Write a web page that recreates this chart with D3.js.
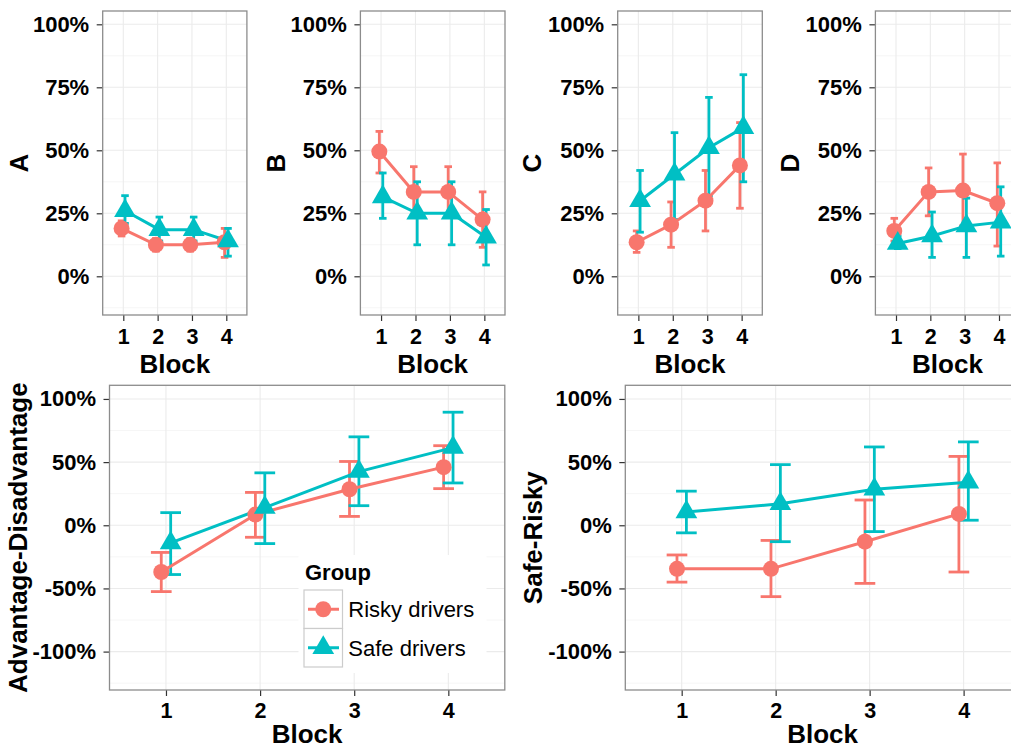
<!DOCTYPE html>
<html><head><meta charset="utf-8">
<script src="https://cdn.jsdelivr.net/npm/d3@7"></script>
<style>
body{margin:0;background:#fff}
svg{display:block}
text{font-family:"Liberation Sans",Arial,Helvetica,sans-serif}
</style>
</head><body>
<svg id="chart" width="1011" height="749"></svg>
<script>
// ---------------- data ----------------
const blocks = [1, 2, 3, 4];
const groupNames = ["Risky drivers", "Safe drivers"];
const groupColors = ["#F8766D", "#00BFC4"];
const topTicks = [0, 0.25, 0.5, 0.75, 1];
const bottomTicks = [-1, -0.5, 0, 0.5, 1];
const panelTitles = ["A", "B", "C", "D"];

// Panel A
const A_risky_mean = [0.19, 0.125, 0.125, 0.135];
const A_risky_low  = [0.16, 0.10, 0.10, 0.075];
const A_risky_high = [0.22, 0.15, 0.15, 0.19];
const A_safe_mean  = [0.26, 0.185, 0.185, 0.14];
const A_safe_low   = [0.21, 0.14, 0.14, 0.08];
const A_safe_high  = [0.32, 0.235, 0.235, 0.19];
// Panel B
const B_risky_mean = [0.495, 0.335, 0.335, 0.225];
const B_risky_low  = [0.41, 0.24, 0.24, 0.115];
const B_risky_high = [0.575, 0.435, 0.435, 0.335];
const B_safe_mean  = [0.315, 0.25, 0.25, 0.155];
const B_safe_low   = [0.23, 0.125, 0.125, 0.045];
const B_safe_high  = [0.41, 0.375, 0.375, 0.265];
// Panel C
const C_risky_mean = [0.135, 0.205, 0.30, 0.44];
const C_risky_low  = [0.095, 0.115, 0.18, 0.27];
const C_risky_high = [0.18, 0.295, 0.42, 0.61];
const C_safe_mean  = [0.30, 0.405, 0.51, 0.59];
const C_safe_low   = [0.175, 0.225, 0.32, 0.375];
const C_safe_high  = [0.42, 0.57, 0.71, 0.80];
// Panel D
const D_risky_mean = [0.18, 0.335, 0.34, 0.29];
const D_risky_low  = [0.14, 0.24, 0.20, 0.12];
const D_risky_high = [0.23, 0.43, 0.485, 0.45];
const D_safe_mean  = [0.13, 0.16, 0.20, 0.215];
const D_safe_low   = [0.11, 0.075, 0.075, 0.08];
const D_safe_high  = [0.16, 0.255, 0.31, 0.355];
// Advantage-Disadvantage
const AD_risky_mean = [-0.37, 0.085, 0.285, 0.46];
const AD_risky_low  = [-0.525, -0.095, 0.07, 0.29];
const AD_risky_high = [-0.215, 0.26, 0.505, 0.63];
const AD_safe_mean  = [-0.14, 0.14, 0.425, 0.615];
const AD_safe_low   = [-0.39, -0.145, 0.155, 0.335];
const AD_safe_high  = [0.10, 0.415, 0.70, 0.895];
// Safe-Risky
const SR_risky_mean = [-0.345, -0.345, -0.13, 0.09];
const SR_risky_low  = [-0.45, -0.565, -0.46, -0.37];
const SR_risky_high = [-0.235, -0.12, 0.20, 0.545];
const SR_safe_mean  = [0.105, 0.17, 0.285, 0.34];
const SR_safe_low   = [-0.06, -0.13, -0.05, 0.04];
const SR_safe_high  = [0.27, 0.48, 0.62, 0.66];

// ---------------- helpers ----------------
function series(mean, low, high) {
  return blocks.map((b, i) => ({block: b, mean: mean[i], low: low[i], high: high[i]}));
}
const pct = d => Math.round(d * 100) + "%";
const svg = d3.select("#chart");

function drawPanel(cfg) {
  const g = svg.append("g");
  const x = d3.scaleLinear().domain([0.4, 4.6]).range([cfg.x0, cfg.x1]);
  const y = d3.scaleLinear().domain(cfg.ydom).range([cfg.y1, cfg.y0]);
  const band = x(2) - x(1);

  g.append("rect").attr("x", cfg.x0).attr("y", cfg.y0)
    .attr("width", cfg.x1 - cfg.x0).attr("height", cfg.y1 - cfg.y0).attr("fill", "#fff");

  // minor grid
  const minor = [];
  for (let i = 0; i < cfg.ticks.length - 1; i++) minor.push((cfg.ticks[i] + cfg.ticks[i + 1]) / 2);
  minor.push(cfg.ticks[0] - (cfg.ticks[1] - cfg.ticks[0]) / 2);
  minor.push(cfg.ticks[cfg.ticks.length - 1] + (cfg.ticks[1] - cfg.ticks[0]) / 2);
  g.selectAll(".mg").data(minor.filter(v => v > cfg.ydom[0] && v < cfg.ydom[1])).join("line")
    .attr("x1", cfg.x0).attr("x2", cfg.x1).attr("y1", d => y(d)).attr("y2", d => y(d))
    .attr("stroke", "#f6f6f6").attr("stroke-width", 1);
  // major grid
  g.selectAll(".gy").data(cfg.ticks).join("line")
    .attr("x1", cfg.x0).attr("x2", cfg.x1).attr("y1", d => y(d)).attr("y2", d => y(d))
    .attr("stroke", "#ebebeb").attr("stroke-width", 1.1);
  g.selectAll(".gx").data(blocks).join("line")
    .attr("x1", d => x(d)).attr("x2", d => x(d)).attr("y1", cfg.y0).attr("y2", cfg.y1)
    .attr("stroke", "#ebebeb").attr("stroke-width", 1.1);

  // axes
  const ya = g.append("g").attr("transform", `translate(${cfg.x0},0)`)
    .call(d3.axisLeft(y).tickValues(cfg.ticks).tickFormat(pct).tickSize(6).tickPadding(7.5));
  const xa = g.append("g").attr("transform", `translate(0,${cfg.y1})`)
    .call(d3.axisBottom(x).tickValues(blocks).tickFormat(d3.format("d")).tickSize(6).tickPadding(cfg.xpad));
  [ya, xa].forEach(a => {
    a.select(".domain").remove();
    a.attr("font-weight", "bold").attr("font-family", '"Liberation Sans",Arial,sans-serif');
    a.selectAll("line").attr("stroke", "#333").attr("stroke-width", 1.2);
    a.selectAll("text").attr("fill", "#000");
  });
  ya.attr("font-size", 22);
  xa.attr("font-size", 21.5);

  // titles
  g.append("text").attr("x", (cfg.x0 + cfg.x1) / 2).attr("y", cfg.xTitleY)
    .attr("text-anchor", "middle").attr("font-size", 26).attr("font-weight", "bold").text("Block");
  const cy = (cfg.y0 + cfg.y1) / 2;
  g.append("text").attr("transform", `translate(${cfg.yTitleX},${cy}) rotate(-90)`)
    .attr("text-anchor", "middle").attr("dy", "0.35em")
    .attr("font-size", 26).attr("font-weight", "bold").text(cfg.title);

  // legend (background + keys) drawn before data marks
  if (cfg.legend) drawLegend(g);

  // data
  const dodge = [-0.05, 0.05];
  const capHalf = band * 0.11;
  const sets = [cfg.risky, cfg.safe];
  sets.forEach((s, gi) => {
    const col = groupColors[gi];
    const gg = g.append("g");
    gg.selectAll(".eb").data(s).join("line")
      .attr("x1", d => x(d.block + dodge[gi])).attr("x2", d => x(d.block + dodge[gi]))
      .attr("y1", d => y(d.low)).attr("y2", d => y(d.high))
      .attr("stroke", col).attr("stroke-width", 2.8);
    ["low", "high"].forEach(k => {
      gg.selectAll(".cap" + k).data(s).join("line")
        .attr("x1", d => x(d.block + dodge[gi]) - capHalf).attr("x2", d => x(d.block + dodge[gi]) + capHalf)
        .attr("y1", d => y(d[k])).attr("y2", d => y(d[k]))
        .attr("stroke", col).attr("stroke-width", 2.8);
    });
  });
  sets.forEach((s, gi) => {
    g.append("path").datum(s)
      .attr("d", d3.line().x(d => x(d.block + dodge[gi])).y(d => y(d.mean)))
      .attr("fill", "none").attr("stroke", groupColors[gi]).attr("stroke-width", 3);
  });
  sets.forEach((s, gi) => {
    if (gi === 0) {
      g.selectAll(".pt0").data(s).join("circle")
        .attr("cx", d => x(d.block + dodge[gi])).attr("cy", d => y(d.mean)).attr("r", 8)
        .attr("fill", groupColors[gi]);
    } else {
      g.selectAll(".pt1").data(s).join("path")
        .attr("transform", d => `translate(${x(d.block + dodge[gi])},${y(d.mean)})`)
        .attr("d", d3.symbol(d3.symbolTriangle, 205)())
        .attr("fill", groupColors[gi]);
    }
  });

  // border
  g.append("rect").attr("x", cfg.x0).attr("y", cfg.y0)
    .attr("width", cfg.x1 - cfg.x0).attr("height", cfg.y1 - cfg.y0)
    .attr("fill", "none").attr("stroke", "#8c8c8c").attr("stroke-width", 1.3);
}

function drawLegend(g) {
  g.append("rect").attr("x", 298.5).attr("y", 555).attr("width", 188).attr("height", 118).attr("fill", "#fff");
  g.append("text").attr("x", 305).attr("y", 579.5).attr("font-size", 22).attr("font-weight", "bold").text("Group");
  const keyX = 304, keyW = 38.5, keyH = 38.5, top = 590;
  groupNames.forEach((name, i) => {
    const ky = top + i * keyH;
    g.append("rect").attr("x", keyX).attr("y", ky).attr("width", keyW).attr("height", keyH)
      .attr("fill", "#fff").attr("stroke", "#cccccc").attr("stroke-width", 1.2);
    const cy = ky + keyH / 2;
    g.append("line").attr("x1", keyX + 4).attr("x2", keyX + keyW - 3.5).attr("y1", cy).attr("y2", cy)
      .attr("stroke", groupColors[i]).attr("stroke-width", 3);
    if (i === 0) {
      g.append("circle").attr("cx", keyX + keyW / 2).attr("cy", cy).attr("r", 8).attr("fill", groupColors[i]);
    } else {
      g.append("path").attr("transform", `translate(${keyX + keyW / 2},${cy})`)
        .attr("d", d3.symbol(d3.symbolTriangle, 205)()).attr("fill", groupColors[i]);
    }
    g.append("text").attr("x", 348.3).attr("y", cy + 8).attr("font-size", 22).text(name);
  });
}

// ---------------- layout ----------------
const topX = [[102.7, 246.9], [360.4, 505], [617.7, 762.3], [875.4, 1019.6]];
const topTitleX = [19, 276, 532, 790];
const topData = [
  [series(A_risky_mean, A_risky_low, A_risky_high), series(A_safe_mean, A_safe_low, A_safe_high)],
  [series(B_risky_mean, B_risky_low, B_risky_high), series(B_safe_mean, B_safe_low, B_safe_high)],
  [series(C_risky_mean, C_risky_low, C_risky_high), series(C_safe_mean, C_safe_low, C_safe_high)],
  [series(D_risky_mean, D_risky_low, D_risky_high), series(D_safe_mean, D_safe_low, D_safe_high)]
];
panelTitles.forEach((t, i) => {
  drawPanel({
    x0: topX[i][0], x1: topX[i][1], y0: 11, y1: 315, ydom: [-0.1536, 1.0528], ticks: topTicks,
    xpad: 7.3, xTitleY: 372.8, yTitleX: topTitleX[i], title: t,
    risky: topData[i][0], safe: topData[i][1]
  });
});

drawPanel({
  x0: 109.5, x1: 504.8, y0: 385.3, y1: 690, ydom: [-1.304, 1.108], ticks: bottomTicks,
  xpad: 7, xTitleY: 743.3, yTitleX: 18, title: "Advantage-Disadvantage",
  risky: series(AD_risky_mean, AD_risky_low, AD_risky_high),
  safe: series(AD_safe_mean, AD_safe_low, AD_safe_high), legend: true
});
drawPanel({
  x0: 625.3, x1: 1020, y0: 385.3, y1: 690, ydom: [-1.304, 1.108], ticks: bottomTicks,
  xpad: 7, xTitleY: 743.3, yTitleX: 533, title: "Safe-Risky",
  risky: series(SR_risky_mean, SR_risky_low, SR_risky_high),
  safe: series(SR_safe_mean, SR_safe_low, SR_safe_high)
});
</script>
</body></html>
